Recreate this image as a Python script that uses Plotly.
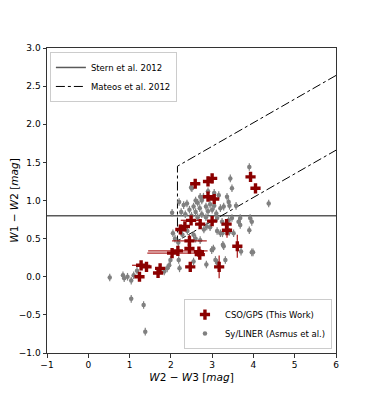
import plotly.graph_objects as go

# CSO/GPS sources (this work)
cso_x = [1.24, 1.28, 1.41, 1.69, 1.74, 2.03, 2.17, 2.23, 2.34, 2.45, 2.45, 2.47, 2.49, 2.59,
         2.68, 2.70, 2.71, 2.90, 3.00, 2.90, 3.05, 3.00, 3.17, 3.35, 3.36, 3.61, 3.93, 4.05]
cso_y = [0.00, 0.15, 0.13, 0.05, 0.11, 0.31, 0.34, 0.62, 0.66, 0.47, 0.37, 0.13, 0.74, 1.22,
         0.33, 0.29, 0.69, 1.25, 1.29, 1.05, 1.02, 0.73, 0.13, 0.69, 0.61, 0.40, 1.31, 1.16]
cso_xerr = [0.05, 0.22, 0.08, 0.05, 0.05, 0.60, 0.72, 0.06, 0.06, 0.42, 0.06, 0.05, 0.25, 0.05,
            0.12, 0.06, 0.06, 0.05, 0.05, 0.05, 0.06, 0.06, 0.05, 0.05, 0.05, 0.06, 0.05, 0.05]
cso_yerr = [0.04, 0.04, 0.04, 0.04, 0.04, 0.05, 0.05, 0.04, 0.04, 0.08, 0.06, 0.04, 0.04, 0.04,
            0.06, 0.06, 0.04, 0.04, 0.04, 0.04, 0.04, 0.04, 0.15, 0.06, 0.10, 0.15, 0.04, 0.05]

# Sy/LINER sample (Asmus et al.)
sy_x = [0.52, 0.84, 0.87, 0.95, 1.04, 1.10, 1.18, 1.04, 1.34, 1.38,
        1.84, 1.91, 1.96, 1.99, 2.19, 2.21, 2.05, 2.55, 2.86, 2.71,
        2.99, 3.03, 3.08, 3.13, 3.28, 3.32, 3.42, 3.96, 3.90, 3.12,
        3.20, 3.25, 2.10, 2.28, 2.55, 2.87, 2.95, 3.24, 3.40, 3.64,
        3.92, 3.96, 3.12, 3.48, 3.68, 3.68, 3.52, 3.70, 3.99, 2.60,
        2.03, 2.31, 2.39, 2.51, 2.45, 2.55, 2.60, 2.65, 2.70, 2.75,
        2.79, 2.85, 2.90, 2.95, 3.00, 3.05, 3.10, 3.16, 3.20, 3.28,
        3.36, 3.40, 3.44, 3.48, 3.42, 3.58, 4.37, 3.90, 2.49, 2.71,
        2.60, 2.20, 2.25, 2.35, 2.90, 3.05, 2.85, 2.75, 2.65, 2.50,
        2.40, 2.80, 2.18, 3.26]
sy_y = [-0.01, 0.02, -0.02, 0.00, -0.05, 0.02, 0.08, -0.29, -0.37, -0.72,
        0.07, 0.11, 0.15, 0.22, 0.22, 0.11, 0.57, 0.20, 0.16, 0.48,
        0.35, 0.37, 0.22, 0.18, 0.40, 0.22, 0.59, 0.32, 0.61, 0.60,
        0.57, 0.57, 0.50, 0.55, 0.55, 0.66, 0.65, 0.72, 0.74, 0.72,
        0.77, 0.72, 0.77, 0.77, 0.77, 0.68, 0.57, 0.33, 0.32, 0.50,
        0.84, 0.94, 0.96, 1.16, 0.88, 0.92, 0.85, 0.97, 0.90, 1.00,
        1.05, 0.92, 0.86, 0.95, 0.88, 0.93, 0.83, 1.07, 0.90, 0.92,
        1.05, 0.98, 1.29, 1.16, 0.93, 0.93, 0.96, 1.44, 1.17, 1.05,
        1.00, 0.98, 0.85, 0.82, 1.12, 1.10, 0.78, 0.82, 0.78, 0.80,
        0.60, 0.62, 0.45, 0.42]

# selection wedges
stern_x = [-1, 6]
stern_y = [0.8, 0.8]
mateos_x = [6.0, 2.16, 2.16, 6.0]
mateos_y = [2.64, 1.45, 0.47, 1.66]

fig = go.Figure()

fig.add_trace(go.Scatter(
    x=stern_x, y=stern_y, mode="lines",
    line=dict(color="rgba(0,0,0,0.65)", width=1.5),
    name="Stern et al. 2012", legend="legend"))
fig.add_trace(go.Scatter(
    x=mateos_x, y=mateos_y, mode="lines",
    line=dict(color="black", width=1, dash="dashdot"),
    name="Mateos et al. 2012", legend="legend"))

fig.add_trace(go.Scatter(
    x=sy_x, y=sy_y, mode="markers",
    marker=dict(symbol="circle", size=4.5, color="gray"),
    error_y=dict(type="constant", value=0.05, color="gray", thickness=1.2, width=0),
    error_x=dict(type="constant", value=0.02, color="gray", thickness=1, width=0),
    name="Sy/LINER (Asmus et al.)", legend="legend2"))

fig.add_trace(go.Scatter(
    x=cso_x, y=cso_y, mode="markers",
    marker=dict(symbol="cross", size=8.5, color="#8b0000", line=dict(width=0)),
    error_x=dict(type="data", array=cso_xerr, color="rgba(160,0,0,0.85)", thickness=1.3, width=0),
    error_y=dict(type="data", array=cso_yerr, color="rgba(160,0,0,0.85)", thickness=1.3, width=0),
    name="CSO/GPS (This Work)", legend="legend2"))

axis_style = dict(showline=True, linecolor="#333", linewidth=1, mirror=True,
                  ticks="outside", ticklen=3.5, tickwidth=1, tickcolor="#333",
                  showgrid=False, zeroline=False, automargin=False,
                  tickfont=dict(family="DejaVu Sans", size=9, color="black"))

fig.update_xaxes(range=[-1, 6], dtick=1,
                 title=dict(text="<i>W</i>2 − <i>W</i>3 [<i>mag</i>]",
                            font=dict(family="DejaVu Sans", size=10.5, color="black"), standoff=4),
                 **axis_style)
fig.update_yaxes(range=[-1, 3], dtick=0.5, tickformat=".1f",
                 title=dict(text="<i>W</i>1 − <i>W</i>2 [<i>mag</i>]",
                            font=dict(family="DejaVu Sans", size=10.5, color="black"), standoff=4),
                 **axis_style)

# the page body adds an 8px offset, so the margins are shifted by that amount
fig.update_layout(
    width=374, height=397,
    margin=dict(l=39, r=46, t=40, b=52),
    paper_bgcolor="white", plot_bgcolor="white",
    font=dict(family="DejaVu Sans", size=9, color="black"),
    legend=dict(x=0.01, y=0.987, xanchor="left", yanchor="top",
                bgcolor="rgba(255,255,255,0.8)", bordercolor="#ccc", borderwidth=1,
                font=dict(size=8.5), tracegroupgap=0, itemwidth=30),
    legend2=dict(x=0.986, y=0.013, xanchor="right", yanchor="bottom",
                 bgcolor="rgba(255,255,255,0.8)", bordercolor="#ccc", borderwidth=1,
                 font=dict(size=8.5), tracegroupgap=0, itemwidth=30, traceorder="reversed"),
)

fig.write_html("out.html")
